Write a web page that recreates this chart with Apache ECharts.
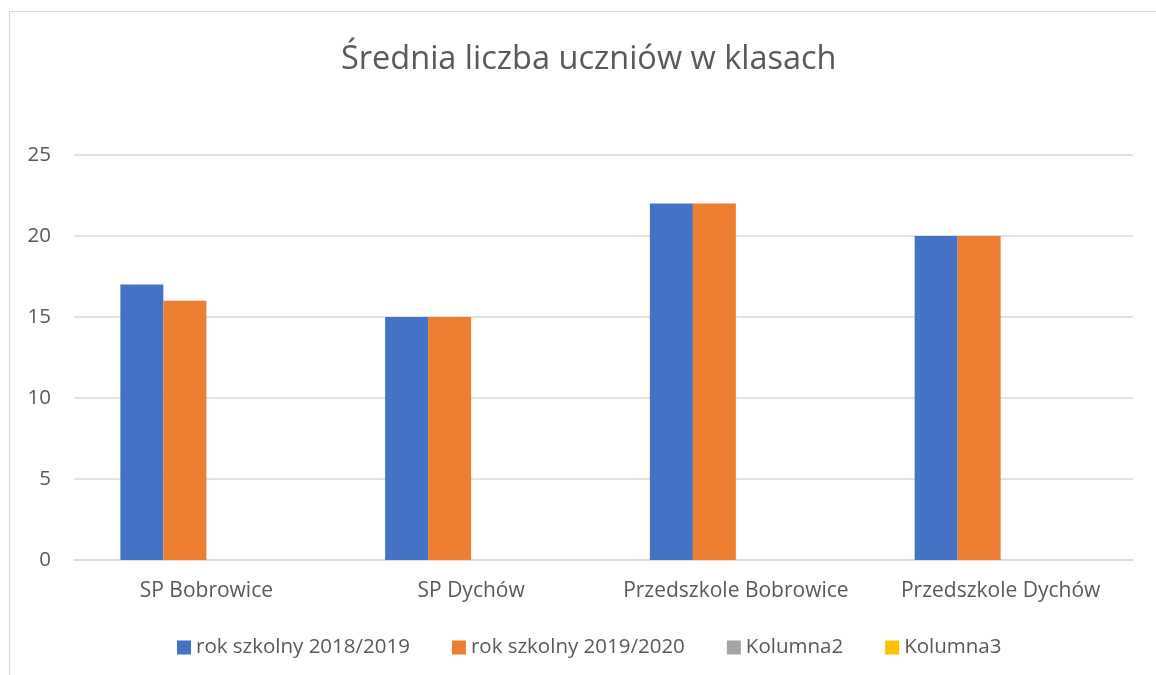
<!DOCTYPE html>
<html>
<head>
<meta charset="utf-8">
<title>Średnia liczba uczniów</title>
<script src="https://cdn.jsdelivr.net/npm/echarts@6/dist/echarts.min.js"></script>
<style>
html, body { margin:0; padding:0; background:#fff; }
#chart { width:1156px; height:675px; }
</style>
</head>
<body>
<div id="chart"></div>
<script>
var categories = ['SP Bobrowice', 'SP Dychów', 'Przedszkole Bobrowice', 'Przedszkole Dychów'];
var rok2018 = [17, 15, 22, 20];
var rok2019 = [16, 15, 22, 20];
var kolumna2 = [];
var kolumna3 = [];
var yTicks = [0, 5, 10, 15, 20, 25];

var font = '"Open Sans", Lato, sans-serif';
var txt = '#595959';

var chart = echarts.init(document.getElementById('chart'));
chart.setOption({
	animation: false,
	color: ['#4472C4', '#ED7D31', '#A5A5A5', '#FFC000'],
	graphic: [{
		type: 'rect',
		shape: { x: 9.5, y: 11.5, width: 1200, height: 700 },
		style: { fill: 'none', stroke: '#d9d9d9', lineWidth: 1 }
	}],
	title: {
		text: 'Średnia liczba uczniów w klasach',
		left: 336,
		top: 38,
		textStyle: { fontFamily: font, fontSize: 32.5, fontWeight: 'normal', color: txt }
	},
	grid: { left: 74, right: 23, top: 155, bottom: 115 },
	legend: {
		bottom: 12,
		left: 172,
		itemWidth: 14,
		itemHeight: 14,
		itemGap: 42,
		icon: 'rect',
		textStyle: { fontFamily: font, fontSize: 20.5, color: txt }
	},
	xAxis: {
		type: 'category',
		data: categories,
		axisLine: { lineStyle: { color: '#d9d9d9', width: 1.5 } },
		axisTick: { show: false },
		axisLabel: { fontFamily: font, fontSize: 21, color: txt, margin: 21, interval: 0 }
	},
	yAxis: {
		type: 'value',
		min: yTicks[0],
		max: yTicks[yTicks.length - 1],
		interval: 5,
		axisLine: { show: false },
		axisTick: { show: false },
		splitLine: { lineStyle: { color: '#d9d9d9', width: 1.5 } },
		axisLabel: { fontFamily: font, fontSize: 20.5, color: txt, margin: 23 }
	},
	series: [
		{ name: 'rok szkolny 2018/2019', type: 'bar', data: rok2018, barWidth: 43, barGap: 0 },
		{ name: 'rok szkolny 2019/2020', type: 'bar', data: rok2019, barWidth: 43, barGap: 0 },
		{ name: 'Kolumna2', type: 'bar', data: kolumna2, barWidth: 43, barGap: 0 },
		{ name: 'Kolumna3', type: 'bar', data: kolumna3, barWidth: 43, barGap: 0 }
	]
});
</script>
</body>
</html>
